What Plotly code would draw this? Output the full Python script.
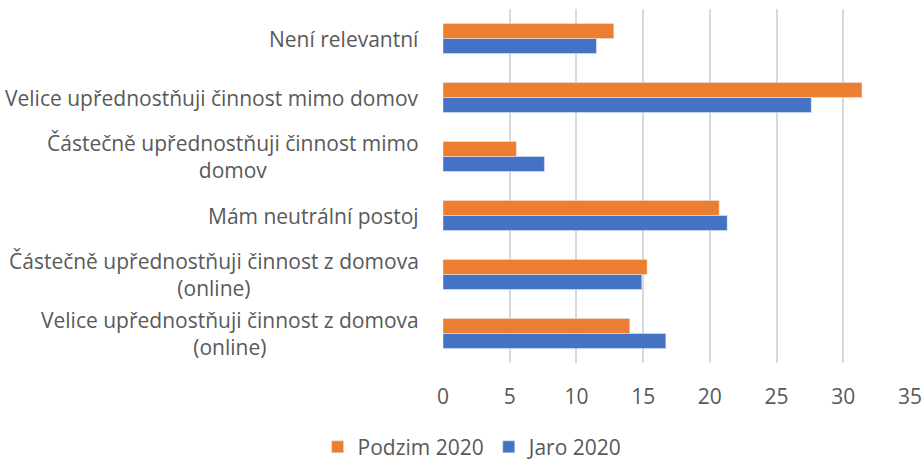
import plotly.graph_objects as go

categories = [
    "Velice upřednostňuji činnost z domova<br>(online)",
    "Částečně upřednostňuji činnost z domova<br>(online)",
    "Mám neutrální postoj",
    "Částečně upřednostňuji činnost mimo<br>domov",
    "Velice upřednostňuji činnost mimo domov",
    "Není relevantní",
]
jaro_2020 = [16.7, 14.9, 21.3, 7.6, 27.6, 11.5]
podzim_2020 = [14.0, 15.3, 20.7, 5.5, 31.4, 12.8]
x_ticks = [0, 5, 10, 15, 20, 25, 30, 35]

FONT = "Open Sans"
GREY = "#595959"
FS = 21

fig = go.Figure()
fig.add_trace(go.Bar(y=categories, x=jaro_2020, name="Jaro 2020", orientation="h",
                     marker=dict(color="#4472C4")))
fig.add_trace(go.Bar(y=categories, x=podzim_2020, name="Podzim 2020", orientation="h",
                     marker=dict(color="#ED7D31")))

for c in categories:
    fig.add_annotation(x=0, xref="paper", y=c, yref="y", text=c, showarrow=False,
                       xanchor="right", yanchor="middle", align="center", xshift=-22,
                       font=dict(family=FONT, size=FS, color=GREY))

fig.update_layout(
    width=924, height=462,
    margin=dict(l=443, r=14, t=9, b=99, autoexpand=False),
    paper_bgcolor="white", plot_bgcolor="white",
    barmode="group", bargap=0.49, bargroupgap=0,
    font=dict(family=FONT, size=FS, color=GREY),
    showlegend=True,
    legend=dict(orientation="h", traceorder="reversed", xref="container", x=0.512,
                xanchor="center", yref="container", y=0.032, yanchor="middle",
                font=dict(family=FONT, size=FS, color=GREY)),
    xaxis=dict(range=[0, 35], tickvals=x_ticks, showgrid=True, gridcolor="#D9D9D9",
               gridwidth=1.5, zeroline=False, showline=False, ticks="outside",
               tickcolor="rgba(0,0,0,0)", ticklen=15,
               tickfont=dict(family=FONT, size=FS, color=GREY)),
    yaxis=dict(categoryorder="array", categoryarray=categories, showticklabels=False,
               showgrid=False, zeroline=False, showline=False),
)

fig.write_html("out.html", config={"displayModeBar": False},
               post_script="document.body.style.margin='0';document.body.style.padding='0';")
